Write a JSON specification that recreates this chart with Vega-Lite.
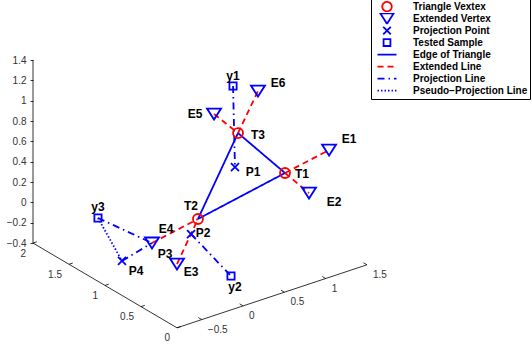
{
  "$schema": "https://vega.github.io/schema/vega-lite/v6.json",
  "width": 532,
  "height": 347,
  "autosize": {"type": "none"},
  "padding": 0,
  "background": "white",
  "config": {
    "view": {"stroke": null},
    "legend": {
      "orient": "none",
      "legendX": 371,
      "legendY": -1,
      "padding": 2,
      "strokeColor": "black",
      "fillColor": "white",
      "labelFont": "Liberation Sans",
      "labelFontWeight": "bold",
      "labelFontSize": 10,
      "labelColor": "black",
      "labelLimit": 300,
      "symbolSize": 90,
      "symbolStrokeWidth": 1.8,
      "symbolOffset": 8,
      "labelOffset": 20,
      "rowPadding": 0,
      "clipHeight": 11.2
    }
  },
  "datasets": {
    "axes": [
      {"axis": "z", "u": 0, "v": -0.4, "u2": 0, "v2": 1.4},
      {"axis": "depth", "u": 0, "v": -0.4, "u2": 1.416, "v2": -1.2331},
      {"axis": "x", "u": 1.416, "v": -1.2331, "u2": 3.2842, "v2": -0.6136}
    ],
    "ticks": [
      {"axis": "depth", "val": 2, "u": 0, "v": -0.4},
      {"axis": "depth", "val": 1.5, "u": 0.354, "v": -0.6083},
      {"axis": "depth", "val": 1, "u": 0.708, "v": -0.8166},
      {"axis": "depth", "val": 0.5, "u": 1.062, "v": -1.0248},
      {"axis": "depth", "val": 0, "u": 1.416, "v": -1.2331},
      {"axis": "x", "val": -0.5, "u": 1.6597, "v": -1.1523},
      {"axis": "x", "val": 0, "u": 2.0658, "v": -1.0177},
      {"axis": "x", "val": 0.5, "u": 2.472, "v": -0.8831},
      {"axis": "x", "val": 1, "u": 2.8781, "v": -0.7484},
      {"axis": "x", "val": 1.5, "u": 3.2842, "v": -0.6136}
    ],
    "points": [
      {"name": "T1", "kind": "Triangle Vextex", "u": 2.478, "v": 0.289, "lu": 2.645, "lv": 0.279},
      {"name": "T2", "kind": "Triangle Vextex", "u": 1.622, "v": -0.163, "lu": 1.554, "lv": -0.035},
      {"name": "T3", "kind": "Triangle Vextex", "u": 2.016, "v": 0.682, "lu": 2.212, "lv": 0.663},
      {"name": "E1", "kind": "Extended Vertex", "u": 2.911, "v": 0.515, "lu": 3.107, "lv": 0.623},
      {"name": "E2", "kind": "Extended Vertex", "u": 2.714, "v": 0.092, "lu": 2.96, "lv": 0.004},
      {"name": "E3", "kind": "Extended Vertex", "u": 1.416, "v": -0.606, "lu": 1.554, "lv": -0.684},
      {"name": "E4", "kind": "Extended Vertex", "u": 1.17, "v": -0.399, "lu": 1.308, "lv": -0.262},
      {"name": "E5", "kind": "Extended Vertex", "u": 1.78, "v": 0.869, "lu": 1.593, "lv": 0.869},
      {"name": "E6", "kind": "Extended Vertex", "u": 2.212, "v": 1.095, "lu": 2.409, "lv": 1.174},
      {"name": "y1", "kind": "Tested Sample", "u": 1.967, "v": 1.145, "lu": 1.967, "lv": 1.243},
      {"name": "y2", "kind": "Tested Sample", "u": 1.947, "v": -0.724, "lu": 1.986, "lv": -0.832},
      {"name": "y3", "kind": "Tested Sample", "u": 0.639, "v": -0.153, "lu": 0.639, "lv": -0.045},
      {"name": "P1", "kind": "Projection Point", "u": 1.986, "v": 0.348, "lu": 2.163, "lv": 0.299},
      {"name": "P2", "kind": "Projection Point", "u": 1.554, "v": -0.311, "lu": 1.672, "lv": -0.301},
      {"name": "P3", "kind": "Projection Point", "u": 1.17, "v": -0.399, "lu": 1.298, "lv": -0.507},
      {"name": "P4", "kind": "Projection Point", "u": 0.875, "v": -0.576, "lu": 1.013, "lv": -0.674}
    ],
    "lines": [
      {"seg": "T1-T2", "type": "Edge of Triangle", "u": 2.478, "v": 0.289},
      {"seg": "T1-T2", "type": "Edge of Triangle", "u": 1.622, "v": -0.163},
      {"seg": "T2-T3", "type": "Edge of Triangle", "u": 1.622, "v": -0.163},
      {"seg": "T2-T3", "type": "Edge of Triangle", "u": 2.016, "v": 0.682},
      {"seg": "T3-T1", "type": "Edge of Triangle", "u": 2.016, "v": 0.682},
      {"seg": "T3-T1", "type": "Edge of Triangle", "u": 2.478, "v": 0.289},
      {"seg": "T1-E1", "type": "Extended Line", "u": 2.478, "v": 0.289},
      {"seg": "T1-E1", "type": "Extended Line", "u": 2.911, "v": 0.515},
      {"seg": "T1-E2", "type": "Extended Line", "u": 2.478, "v": 0.289},
      {"seg": "T1-E2", "type": "Extended Line", "u": 2.714, "v": 0.092},
      {"seg": "T2-E3", "type": "Extended Line", "u": 1.622, "v": -0.163},
      {"seg": "T2-E3", "type": "Extended Line", "u": 1.416, "v": -0.606},
      {"seg": "T2-E4", "type": "Extended Line", "u": 1.622, "v": -0.163},
      {"seg": "T2-E4", "type": "Extended Line", "u": 1.17, "v": -0.399},
      {"seg": "T3-E5", "type": "Extended Line", "u": 2.016, "v": 0.682},
      {"seg": "T3-E5", "type": "Extended Line", "u": 1.78, "v": 0.869},
      {"seg": "T3-E6", "type": "Extended Line", "u": 2.016, "v": 0.682},
      {"seg": "T3-E6", "type": "Extended Line", "u": 2.212, "v": 1.095},
      {"seg": "y1-P1", "type": "Projection Line", "u": 1.967, "v": 1.145},
      {"seg": "y1-P1", "type": "Projection Line", "u": 1.986, "v": 0.348},
      {"seg": "y2-P2", "type": "Projection Line", "u": 1.947, "v": -0.724},
      {"seg": "y2-P2", "type": "Projection Line", "u": 1.554, "v": -0.311},
      {"seg": "y3-P3", "type": "Projection Line", "u": 0.639, "v": -0.153},
      {"seg": "y3-P3", "type": "Projection Line", "u": 1.17, "v": -0.399},
      {"seg": "P4-P3", "type": "Projection Line", "u": 0.875, "v": -0.576},
      {"seg": "P4-P3", "type": "Projection Line", "u": 1.17, "v": -0.399},
      {"seg": "y3-P4", "type": "Pseudo−Projection Line", "u": 0.639, "v": -0.153},
      {"seg": "y3-P4", "type": "Pseudo−Projection Line", "u": 0.875, "v": -0.576}
    ]
  },
  "layer": [
    {
      "data": {"name": "axes"},
      "mark": {"type": "rule", "color": "black", "strokeWidth": 0.8},
      "encoding": {
        "x": {"field": "u", "type": "quantitative", "scale": {"domain": [-0.3245, 4.9066], "nice": false, "zero": false}, "axis": null},
        "y": {"field": "v", "type": "quantitative", "scale": {"domain": [-1.4218, 1.9902], "nice": false, "zero": false},
          "axis": {"values": [-0.4, -0.2, 0, 0.2, 0.4, 0.6, 0.8, 1, 1.2, 1.4], "format": ".1~f", "offset": -33, "domain": false, "grid": false, "tickSize": 3, "tickColor": "black", "tickWidth": 0.8, "labelFont": "Liberation Sans", "labelFontSize": 10, "labelColor": "#333333", "labelPadding": 4, "title": null}},
        "x2": {"field": "u2"},
        "y2": {"field": "v2"}
      }
    },
    {
      "data": {"name": "ticks"},
      "transform": [{"filter": "datum.axis === 'depth'"}],
      "mark": {"type": "point", "shape": "M0,0L0.95,-0.32", "size": 64, "color": "black", "strokeWidth": 0.8, "filled": false, "opacity": 1},
      "encoding": {
        "x": {"field": "u", "type": "quantitative", "scale": {"domain": [-0.3245, 4.9066], "nice": false, "zero": false}, "axis": null},
        "y": {"field": "v", "type": "quantitative", "scale": {"domain": [-1.4218, 1.9902], "nice": false, "zero": false},
          "axis": {"values": [-0.4, -0.2, 0, 0.2, 0.4, 0.6, 0.8, 1, 1.2, 1.4], "format": ".1~f", "offset": -33, "domain": false, "grid": false, "tickSize": 3, "tickColor": "black", "tickWidth": 0.8, "labelFont": "Liberation Sans", "labelFontSize": 10, "labelColor": "#333333", "labelPadding": 4, "title": null}}
      }
    },
    {
      "data": {"name": "ticks"},
      "transform": [{"filter": "datum.axis === 'x'"}],
      "mark": {"type": "point", "shape": "M0,0L-0.86,-0.51", "size": 64, "color": "black", "strokeWidth": 0.8, "filled": false, "opacity": 1},
      "encoding": {
        "x": {"field": "u", "type": "quantitative", "scale": {"domain": [-0.3245, 4.9066], "nice": false, "zero": false}, "axis": null},
        "y": {"field": "v", "type": "quantitative", "scale": {"domain": [-1.4218, 1.9902], "nice": false, "zero": false},
          "axis": {"values": [-0.4, -0.2, 0, 0.2, 0.4, 0.6, 0.8, 1, 1.2, 1.4], "format": ".1~f", "offset": -33, "domain": false, "grid": false, "tickSize": 3, "tickColor": "black", "tickWidth": 0.8, "labelFont": "Liberation Sans", "labelFontSize": 10, "labelColor": "#333333", "labelPadding": 4, "title": null}}
      }
    },
    {
      "data": {"name": "ticks"},
      "transform": [{"filter": "datum.axis === 'depth'"}],
      "mark": {"type": "text", "align": "right", "baseline": "middle", "dx": -7, "dy": 10.5, "font": "Liberation Sans", "fontSize": 10, "color": "#333333"},
      "encoding": {
        "x": {"field": "u", "type": "quantitative", "scale": {"domain": [-0.3245, 4.9066], "nice": false, "zero": false}, "axis": null},
        "y": {"field": "v", "type": "quantitative", "scale": {"domain": [-1.4218, 1.9902], "nice": false, "zero": false},
          "axis": {"values": [-0.4, -0.2, 0, 0.2, 0.4, 0.6, 0.8, 1, 1.2, 1.4], "format": ".1~f", "offset": -33, "domain": false, "grid": false, "tickSize": 3, "tickColor": "black", "tickWidth": 0.8, "labelFont": "Liberation Sans", "labelFontSize": 10, "labelColor": "#333333", "labelPadding": 4, "title": null}},
        "text": {"field": "val", "type": "quantitative", "format": ".1~f"}
      }
    },
    {
      "data": {"name": "ticks"},
      "transform": [{"filter": "datum.axis === 'x'"}],
      "mark": {"type": "text", "align": "left", "baseline": "middle", "dx": 6, "dy": 10, "font": "Liberation Sans", "fontSize": 10, "color": "#333333"},
      "encoding": {
        "x": {"field": "u", "type": "quantitative", "scale": {"domain": [-0.3245, 4.9066], "nice": false, "zero": false}, "axis": null},
        "y": {"field": "v", "type": "quantitative", "scale": {"domain": [-1.4218, 1.9902], "nice": false, "zero": false},
          "axis": {"values": [-0.4, -0.2, 0, 0.2, 0.4, 0.6, 0.8, 1, 1.2, 1.4], "format": ".1~f", "offset": -33, "domain": false, "grid": false, "tickSize": 3, "tickColor": "black", "tickWidth": 0.8, "labelFont": "Liberation Sans", "labelFontSize": 10, "labelColor": "#333333", "labelPadding": 4, "title": null}},
        "text": {"field": "val", "type": "quantitative", "format": ".1~f"}
      }
    },
    {
      "data": {"name": "lines"},
      "mark": {"type": "line", "strokeWidth": 1.8},
      "encoding": {
        "x": {"field": "u", "type": "quantitative", "scale": {"domain": [-0.3245, 4.9066], "nice": false, "zero": false}, "axis": null},
        "y": {"field": "v", "type": "quantitative", "scale": {"domain": [-1.4218, 1.9902], "nice": false, "zero": false},
          "axis": {"values": [-0.4, -0.2, 0, 0.2, 0.4, 0.6, 0.8, 1, 1.2, 1.4], "format": ".1~f", "offset": -33, "domain": false, "grid": false, "tickSize": 3, "tickColor": "black", "tickWidth": 0.8, "labelFont": "Liberation Sans", "labelFontSize": 10, "labelColor": "#333333", "labelPadding": 4, "title": null}},
        "detail": {"field": "seg"},
        "color": {"field": "type", "type": "nominal",
          "scale": {"domain": ["Triangle Vextex", "Extended Vertex", "Projection Point", "Tested Sample", "Edge of Triangle", "Extended Line", "Projection Line", "Pseudo−Projection Line"],
                    "range": ["#ff0000", "#0000ff", "#0000ff", "#0000ff", "#0000ff", "#ff0000", "#0000ff", "#0000ff"]},
          "legend": {"title": null}},
        "strokeDash": {"field": "type", "type": "nominal",
          "scale": {"domain": ["Triangle Vextex", "Extended Vertex", "Projection Point", "Tested Sample", "Edge of Triangle", "Extended Line", "Projection Line", "Pseudo−Projection Line"],
                    "range": [[1, 0], [1, 0], [1, 0], [1, 0], [1, 0], [6, 4], [7, 4, 1.5, 4], [1.5, 2]]},
          "legend": {"title": null}}
      }
    },
    {
      "data": {"name": "points"},
      "transform": [{"filter": "datum.name !== 'P3'"}],
      "mark": {"type": "point", "filled": false, "size": 100, "strokeWidth": 1.8, "opacity": 1},
      "encoding": {
        "x": {"field": "u", "type": "quantitative", "scale": {"domain": [-0.3245, 4.9066], "nice": false, "zero": false}, "axis": null},
        "y": {"field": "v", "type": "quantitative", "scale": {"domain": [-1.4218, 1.9902], "nice": false, "zero": false},
          "axis": {"values": [-0.4, -0.2, 0, 0.2, 0.4, 0.6, 0.8, 1, 1.2, 1.4], "format": ".1~f", "offset": -33, "domain": false, "grid": false, "tickSize": 3, "tickColor": "black", "tickWidth": 0.8, "labelFont": "Liberation Sans", "labelFontSize": 10, "labelColor": "#333333", "labelPadding": 4, "title": null}},
        "color": {"field": "kind", "type": "nominal",
          "scale": {"domain": ["Triangle Vextex", "Extended Vertex", "Projection Point", "Tested Sample", "Edge of Triangle", "Extended Line", "Projection Line", "Pseudo−Projection Line"],
                    "range": ["#ff0000", "#0000ff", "#0000ff", "#0000ff", "#0000ff", "#ff0000", "#0000ff", "#0000ff"]},
          "legend": {"title": null}},
        "shape": {"field": "kind", "type": "nominal",
          "scale": {"domain": ["Triangle Vextex", "Extended Vertex", "Projection Point", "Tested Sample", "Edge of Triangle", "Extended Line", "Projection Line", "Pseudo−Projection Line"],
                    "range": ["circle", "M-1.4,-1.1L1.4,-1.1L0,1.1Z", "M-0.8,-0.8L0.8,0.8M-0.8,0.8L0.8,-0.8", "M-0.72,-0.72L0.72,-0.72L0.72,0.72L-0.72,0.72Z", "M-2,0L2,0", "M-2,0L2,0", "M-2,0L2,0", "M-2,0L2,0"]},
          "legend": {"title": null}}
      }
    },
    {
      "data": {"name": "points"},
      "mark": {"type": "text", "align": "center", "baseline": "middle", "font": "Liberation Sans", "fontWeight": "bold", "fontSize": 12, "color": "black"},
      "encoding": {
        "x": {"field": "lu", "type": "quantitative", "scale": {"domain": [-0.3245, 4.9066], "nice": false, "zero": false}, "axis": null},
        "y": {"field": "lv", "type": "quantitative", "scale": {"domain": [-1.4218, 1.9902], "nice": false, "zero": false},
          "axis": {"values": [-0.4, -0.2, 0, 0.2, 0.4, 0.6, 0.8, 1, 1.2, 1.4], "format": ".1~f", "offset": -33, "domain": false, "grid": false, "tickSize": 3, "tickColor": "black", "tickWidth": 0.8, "labelFont": "Liberation Sans", "labelFontSize": 10, "labelColor": "#333333", "labelPadding": 4, "title": null}},
        "text": {"field": "name", "type": "nominal"}
      }
    }
  ]
}
